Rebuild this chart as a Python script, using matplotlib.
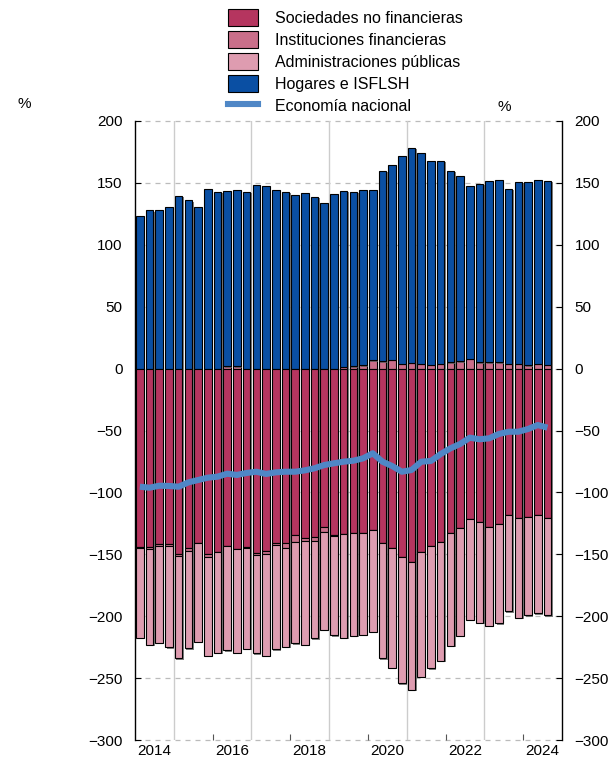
import numpy as np
import pandas as pd
import matplotlib
matplotlib.use('Agg')
import matplotlib.pyplot as plt
from matplotlib.patches import Patch
from matplotlib.lines import Line2D
from matplotlib import patheffects as pe

plt.rcParams['font.family'] = ['Liberation Sans', 'DejaVu Sans']
plt.rcParams['font.size'] = 11

# trimestres 2014T1 - 2024T3
trimestres = pd.period_range('2014Q1', '2024Q3', freq='Q')
anios = [2014, 2016, 2018, 2020, 2022, 2024]

hogares = [123.3, 127.9, 127.9, 130.8, 139.4, 135.9, 130.3, 145.3, 142.9, 141.5,
           142.3, 142.9, 148.0, 147.5, 144.3, 142.9, 140.0, 141.6, 138.9, 134.0,
           140.8, 142.0, 140.9, 141.4, 137.5, 153.9, 157.5, 167.7, 173.7, 169.9,
           164.4, 163.9, 154.9, 149.6, 139.5, 144.1, 146.5, 147.3, 141.6, 146.7,
           148.1, 148.3, 148.5]
sociedades = [-144.4, -144.5, -141.9, -141.5, -149.8, -145.0, -140.6, -150.0, -147.9, -143.3,
              -146.0, -144.4, -148.7, -147.0, -141.1, -140.6, -134.4, -137.0, -135.8, -127.7,
              -134.4, -133.6, -133.0, -132.5, -130.4, -141.1, -145.2, -151.9, -156.0, -148.4,
              -143.0, -139.8, -132.5, -129.0, -121.2, -123.6, -127.7, -125.5, -118.5, -120.4,
              -119.9, -118.3, -120.7]
instituciones = [-0.5, -1.0, -1.0, -2.0, -1.5, -2.0, -0.5, -2.0, -0.5, 2.0,
                 2.0, -0.5, -1.5, -3.0, -1.0, -4.5, -6.0, -2.6, -3.2, -4.6,
                 -1.0, 1.5, 2.0, 2.6, 6.8, 6.0, 7.0, 4.0, 4.5, 4.0,
                 3.0, 4.0, 5.0, 6.0, 7.7, 5.0, 5.0, 5.0, 3.7, 4.0,
                 2.6, 3.7, 3.0]
administraciones = [-72.4, -77.8, -78.5, -81.6, -82.7, -78.9, -79.5, -80.1, -81.1, -84.3,
                    -83.5, -81.6, -79.8, -82.1, -84.7, -79.8, -81.5, -83.7, -78.9, -78.8,
                    -80.1, -83.7, -82.7, -82.7, -82.1, -92.9, -96.4, -102.3, -103.6, -100.5,
                    -99.1, -96.4, -91.6, -87.0, -81.9, -81.6, -80.2, -80.2, -77.5, -80.8,
                    -79.4, -79.4, -78.6]
economia_nacional = [-95.4, -96.2, -94.6, -94.8, -95.4, -91.9, -90.0, -88.1, -87.3, -84.9,
                     -85.9, -84.3, -83.3, -85.1, -83.8, -83.3, -83.3, -82.2, -80.5, -77.9,
                     -76.5, -75.2, -74.4, -72.5, -68.4, -75.2, -78.7, -83.3, -81.9, -75.2,
                     -74.6, -69.0, -64.4, -60.9, -55.8, -57.1, -56.3, -52.8, -51.0, -51.0,
                     -48.8, -45.6, -47.7]

c_soc = '#B5355F'
c_inst = '#C96F8A'
c_adm = '#DE9CB0'
c_hog = '#0A4FA3'
c_eco = '#4F87C6'

x = np.arange(len(trimestres))
inst = np.array(instituciones)
inst_pos = np.clip(inst, 0, None)
inst_neg = np.clip(inst, None, 0)
soc = np.array(sociedades)

fig = plt.figure(figsize=(6.09, 7.58), dpi=100)
ax = fig.add_axes([135 / 609, 1 - 740 / 758, (562 - 135) / 609, (740 - 121) / 758])

sombra = [pe.SimplePatchShadow(offset=(1.0, -1.0), shadow_rgbFace='#606060', alpha=0.8), pe.Normal()]
w = 0.78
kw = dict(width=w, edgecolor='black', linewidth=0.8, zorder=3)

barras = []
barras.append(ax.bar(x, inst_pos, color=c_inst, **kw))
barras.append(ax.bar(x, hogares, bottom=inst_pos, color=c_hog, **kw))
barras.append(ax.bar(x, soc, color=c_soc, **kw))
barras.append(ax.bar(x, inst_neg, bottom=soc, color=c_inst, **kw))
barras.append(ax.bar(x, administraciones, bottom=soc + inst_neg, color=c_adm, **kw))
for b in barras:
    for p in b.patches:
        p.set_path_effects(sombra)

ax.plot(x, economia_nacional, color=c_eco, lw=4.4, zorder=6, solid_capstyle='butt')

# ejes
ax.set_xlim(-0.5, len(trimestres) + 0.5)
ax.set_ylim(-300, 200)
yt = np.arange(-300, 201, 50)
ax.set_yticks(yt)
for v in yt:
    ax.axhline(v, color='#BBBBBB', lw=0.9, ls=(0, (4, 4)), zorder=0, clip_on=False)
for a in range(2015, 2025, 2):
    ax.axvline((a - 2014) * 4 - 0.5, color='#CCCCCC', lw=1.0, zorder=0)

ax.set_xticks([(a - 2014) * 4 - 0.5 for a in range(2016, 2025, 2)])
ax.set_xticklabels([])
ax.set_xticks([(a - 2014) * 4 + 1.5 for a in anios], minor=True)
ax.set_xticklabels([str(a) for a in anios], minor=True)
ax.tick_params(axis='x', which='major', direction='in', length=4, color='#555555')
ax.tick_params(axis='x', which='minor', length=0, pad=3, labelsize=11)
ax.tick_params(axis='y', direction='in', length=4, left=True, right=True,
               labelleft=True, labelright=True, pad=9, labelsize=11)

for s in ['top', 'bottom']:
    ax.spines[s].set_visible(False)
for s in ['left', 'right']:
    ax.spines[s].set_linewidth(1.0)

fig.text(18 / 609, 1 - 104 / 758, '%', ha='left', va='center', fontsize=11)
fig.text(498 / 609, 1 - 107 / 758, '%', ha='left', va='center', fontsize=11)

handles = [Patch(facecolor=c_soc, edgecolor='black', lw=0.8),
           Patch(facecolor=c_inst, edgecolor='black', lw=0.8),
           Patch(facecolor=c_adm, edgecolor='black', lw=0.8),
           Patch(facecolor=c_hog, edgecolor='black', lw=0.8),
           Line2D([0], [0], color=c_eco, lw=4.4)]
labels = ['Sociedades no financieras', 'Instituciones financieras',
          'Administraciones públicas', 'Hogares e ISFLSH', 'Economía nacional']
fig.legend(handles, labels, loc='upper left', bbox_to_anchor=(228 / 609, 1 - 9 / 758),
           frameon=False, borderpad=0, borderaxespad=0, handlelength=1.9,
           handleheight=1.25, labelspacing=0.32, handletextpad=1.05, fontsize=11.5)

fig.savefig('out.png', dpi=100)
